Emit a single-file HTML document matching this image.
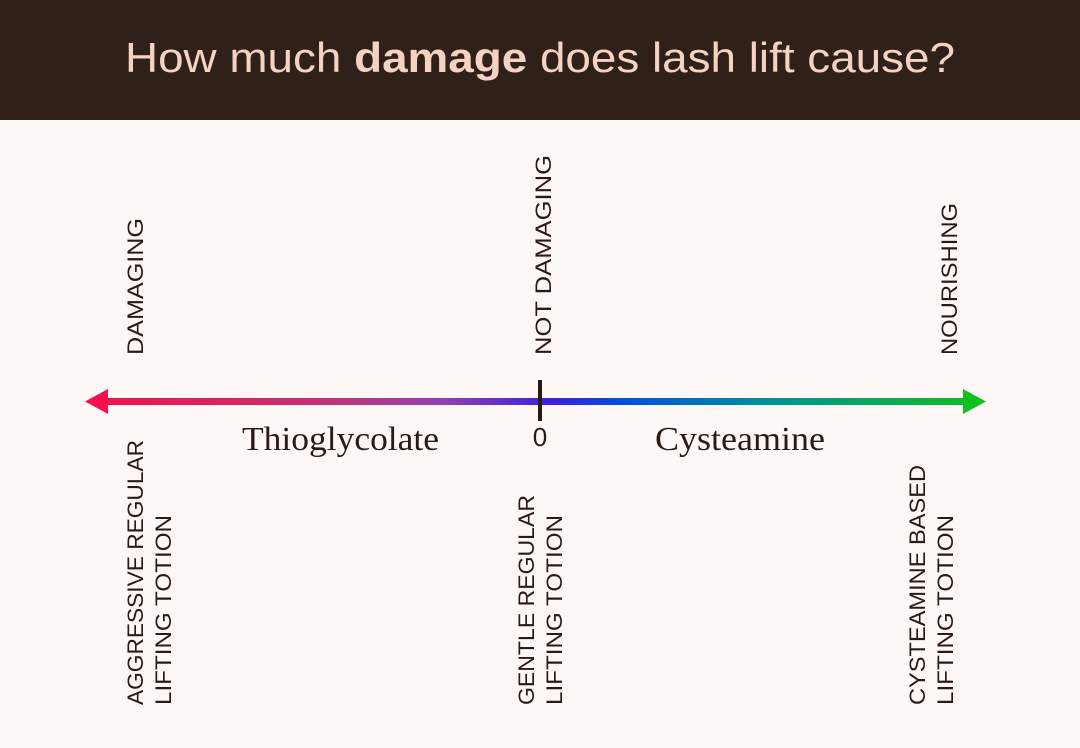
<!DOCTYPE html>
<html><head><meta charset="utf-8"><style>
html,body{margin:0;padding:0;background:#fdf8f5;}
svg{display:block}
</style></head><body>
<svg width="1080" height="748" viewBox="0 0 1080 748" xmlns="http://www.w3.org/2000/svg">
<defs>
<linearGradient id="g" x1="85" y1="0" x2="985" y2="0" gradientUnits="userSpaceOnUse">
<stop offset="0" stop-color="#f5104a"/>
<stop offset="0.25" stop-color="#c83070"/>
<stop offset="0.4" stop-color="#9040b0"/>
<stop offset="0.52" stop-color="#3a20e0"/>
<stop offset="0.6" stop-color="#0050e0"/>
<stop offset="0.75" stop-color="#00909a"/>
<stop offset="1" stop-color="#10c020"/>
</linearGradient>
</defs>
<rect x="0" y="0" width="1080" height="748" fill="#fdf8f5"/>
<rect x="0" y="0" width="1080" height="120" fill="#30201a"/>
<text x="540" y="72" text-anchor="middle" font-family="Liberation Sans, sans-serif" font-size="42" fill="#f6d2c3" textLength="830" lengthAdjust="spacingAndGlyphs">How much <tspan font-weight="bold">damage</tspan> does lash lift cause?</text>
<rect x="100" y="398" width="870" height="7" fill="url(#g)"/>
<polygon points="85,401.5 108,389 108,414" fill="#f5104a"/>
<polygon points="986,401.5 963,389 963,414" fill="#10c020"/>
<rect x="538" y="380" width="4" height="41" fill="#2a1a16"/>
<text x="540" y="446" text-anchor="middle" font-family="Liberation Sans, sans-serif" font-size="26" fill="#2a1a16">0</text>
<g font-family="Liberation Serif, serif" font-size="34" fill="#2a1a16">
<text x="242" y="450" textLength="197" lengthAdjust="spacingAndGlyphs">Thioglycolate</text>
<text x="655" y="450" textLength="170" lengthAdjust="spacingAndGlyphs">Cysteamine</text>
</g>
<g font-family="Liberation Sans, sans-serif" font-size="22" fill="#2a1a16" lengthAdjust="spacingAndGlyphs">
<text transform="translate(143,355) rotate(-90)" textLength="137" lengthAdjust="spacingAndGlyphs">DAMAGING</text>
<text transform="translate(551,355) rotate(-90)" textLength="200" lengthAdjust="spacingAndGlyphs">NOT DAMAGING</text>
<text transform="translate(957,355) rotate(-90)" textLength="152" lengthAdjust="spacingAndGlyphs">NOURISHING</text>
<text transform="translate(143,705) rotate(-90)" textLength="265" lengthAdjust="spacingAndGlyphs">AGGRESSIVE REGULAR</text>
<text transform="translate(171,705) rotate(-90)" textLength="190" lengthAdjust="spacingAndGlyphs">LIFTING TOTION</text>
<text transform="translate(534,705) rotate(-90)" textLength="210" lengthAdjust="spacingAndGlyphs">GENTLE REGULAR</text>
<text transform="translate(562,705) rotate(-90)" textLength="190" lengthAdjust="spacingAndGlyphs">LIFTING TOTION</text>
<text transform="translate(925,705) rotate(-90)" textLength="240" lengthAdjust="spacingAndGlyphs">CYSTEAMINE BASED</text>
<text transform="translate(953,705) rotate(-90)" textLength="190" lengthAdjust="spacingAndGlyphs">LIFTING TOTION</text>
</g>
</svg>
</body></html>
